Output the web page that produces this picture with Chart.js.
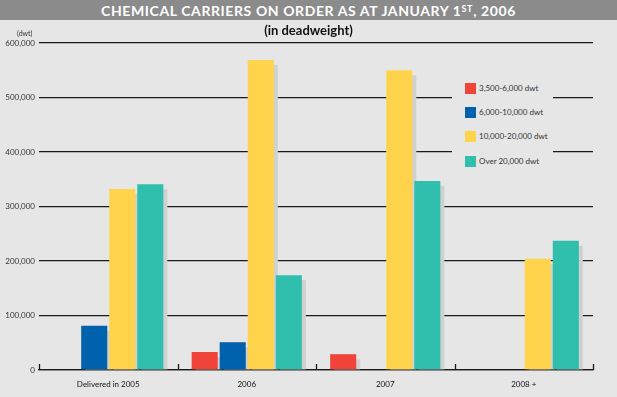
<!DOCTYPE html>
<html>
<head>
<meta charset="utf-8">
<script src="https://cdn.jsdelivr.net/npm/chart.js@4"></script>
<style>
  html, body { margin: 0; padding: 0; background: #e6e6e6; }
  #wrap { position: relative; width: 617px; height: 397px; overflow: hidden; font-family: Lato, "DejaVu Sans", sans-serif; }
  #titlebar { position: absolute; left: 0; top: 0; width: 617px; height: 20px; background: #8b8b8b; color: #fff;
    font: bold 14px Lato, sans-serif; text-align: center; line-height: 21px; letter-spacing: 0.6px; }
  #titlebar sup { font-size: 9px; vertical-align: 0; position: relative; top: -4px; }
  #subtitle { position: absolute; left: 0; width: 617px; top: 22px; text-align: center; font: bold 13px Lato, sans-serif; color: #111; }
  #unit { position: absolute; left: 17px; top: 29px; font: 7px Lato, sans-serif; color: #333; }
  canvas { position: absolute; left: 0; top: 0; }
  #legend { position: absolute; left: 452px; top: 76px; width: 101px; height: 94px; background: #e6e6e6; }
  .item { position: absolute; left: 13px; height: 11px; font: 8px Lato, sans-serif; color: #333; line-height: 11px; white-space: nowrap; }
  .item span { display: inline-block; width: 11px; height: 11px; vertical-align: top; margin-right: 3px; }
</style>
</head>
<body>
<div id="wrap">
  <canvas id="c" width="617" height="397"></canvas>
  <div id="titlebar">CHEMICAL CARRIERS ON ORDER AS AT JANUARY 1<sup>ST</sup>, 2006</div>
  <div id="subtitle">(in deadweight)</div>
  <div id="unit">(dwt)</div>
  <div id="legend"></div>
</div>
<script>
const categories = ['Delivered in 2005', '2006', '2007', '2008 +'];
const seriesNames = ['3,500-6,000 dwt', '6,000-10,000 dwt', '10,000-20,000 dwt', 'Over 20,000 dwt'];
const seriesColors = ['#f0443a', '#0062ad', '#ffd44c', '#30bead'];
const small = [null, 33000, 29000, null];
const medium = [81000, 51000, null, null];
const large = [332000, 569000, 550000, 204000];
const over20 = [341000, 174000, 347000, 237000];
const yTicks = [0, 100000, 200000, 300000, 400000, 500000, 600000];

const seriesValues = [small, medium, large, over20];

// legend (html, sits on top of the grid lines)
const legendEl = document.getElementById('legend');
const rowTops = [7, 31, 55, 80];
seriesNames.forEach((name, i) => {
  const d = document.createElement('div');
  d.className = 'item';
  d.style.top = rowTops[i] + 'px';
  d.innerHTML = '<span style="background:' + seriesColors[i] + '"></span>' + name;
  legendEl.appendChild(d);
});

// grey drop shadow behind every bar
const shadowPlugin = {
  id: 'barShadow',
  beforeDatasetsDraw(chart) {
    const ctx = chart.ctx;
    ctx.save();
    ctx.fillStyle = '#d0d0d0';
    chart.data.datasets.forEach((ds, i) => {
      chart.getDatasetMeta(i).data.forEach((bar, j) => {
        if (ds.data[j] == null) return;
        const w = bar.width;
        ctx.fillRect(bar.x - w / 2 + 4, bar.y + 5, w, bar.base - bar.y - 5);
      });
    });
    ctx.restore();
  }
};

// small upward tick marks at category borders
const tickPlugin = {
  id: 'catTicks',
  afterDraw(chart) {
    const x = chart.scales.x, ctx = chart.ctx;
    const base = chart.chartArea.bottom;
    const half = (x.getPixelForValue(1) - x.getPixelForValue(0)) / 2;
    ctx.save();
    ctx.strokeStyle = '#1a1a1a';
    ctx.lineWidth = 1.3;
    ctx.beginPath();
    for (let i = 0; i <= categories.length; i++) {
      const px = Math.round(x.getPixelForValue(0) - half + i * half * 2) + 0.5;
      ctx.moveTo(px, base - 6);
      ctx.lineTo(px, base);
    }
    ctx.stroke();
    ctx.restore();
  }
};

new Chart(document.getElementById('c').getContext('2d'), {
  type: 'bar',
  data: {
    labels: categories,
    datasets: seriesNames.map((n, i) => ({
      label: n,
      data: seriesValues[i],
      backgroundColor: seriesColors[i],
      borderWidth: 0,
      barPercentage: 0.93,
      categoryPercentage: 0.81,
      skipNull: false
    }))
  },
  options: {
    responsive: false,
    animation: false,
    layout: { padding: { top: 43, right: 24, left: 0, bottom: 0 } },
    plugins: { legend: { display: false }, tooltip: { enabled: false } },
    scales: {
      x: {
        grid: { display: false },
        border: { display: true, color: '#1a1a1a', width: 1.3 },
        ticks: { color: '#111', font: { family: 'Lato', size: 8 }, padding: 2 },
        afterFit(s) { s.height = 27; }
      },
      y: {
        min: 0, max: 600000,
        afterBuildTicks(s) { s.ticks = yTicks.map(v => ({ value: v })); },
        grid: { color: '#1a1a1a', lineWidth: 1.3, drawTicks: false },
        border: { display: false },
        ticks: {
          color: '#333', font: { family: 'Lato', size: 8 }, padding: 4,
          callback: v => v.toLocaleString('en-US')
        },
        afterFit(s) { s.width = 39; }
      }
    }
  },
  plugins: [shadowPlugin, tickPlugin]
});
</script>
</body>
</html>
